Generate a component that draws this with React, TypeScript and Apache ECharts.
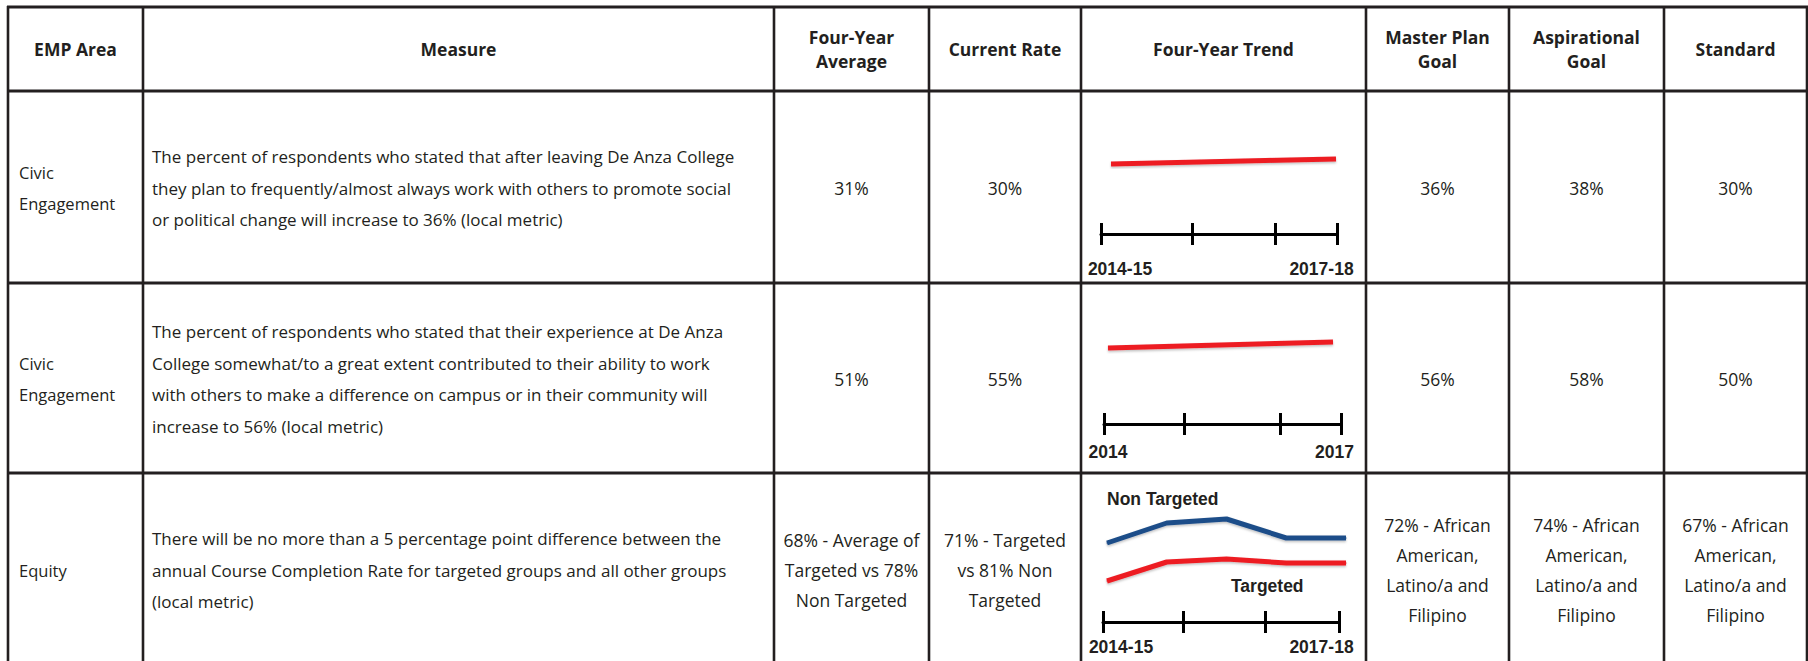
import React, { useEffect, useRef } from "react";
import * as echarts from "echarts";

// ---------- data ----------
const headers = [
  "EMP Area",
  "Measure",
  "Four-Year\nAverage",
  "Current Rate",
  "Four-Year Trend",
  "Master Plan\nGoal",
  "Aspirational\nGoal",
  "Standard",
];
const empAreas = ["Civic\nEngagement", "Civic\nEngagement", "Equity"];
const measures = [
  "The percent of respondents who stated that after leaving De Anza College\nthey plan to frequently/almost always work with others to promote social\nor political change will increase to 36% (local metric)",
  "The percent of respondents who stated that their experience at De Anza\nCollege somewhat/to a great extent contributed to their ability to work\nwith others to make a difference on campus or in their community will\nincrease to 56% (local metric)",
  "There will be no more than a 5 percentage point difference between the\nannual Course Completion Rate for targeted groups and all other groups\n(local metric)",
];
const fourYearAverage = ["31%", "51%", "68% - Average of\nTargeted vs 78%\nNon Targeted"];
const currentRate = ["30%", "55%", "71% - Targeted\nvs 81% Non\nTargeted"];
const masterPlanGoal = ["36%", "56%", "72% - African\nAmerican,\nLatino/a and\nFilipino"];
const aspirationalGoal = ["38%", "58%", "74% - African\nAmerican,\nLatino/a and\nFilipino"];
const standardGoal = ["30%", "50%", "67% - African\nAmerican,\nLatino/a and\nFilipino"];

const trendYears4 = ["2014-15", "2015-16", "2016-17", "2017-18"];
const trendYears5 = ["2014-15", "2015-16", "2016-17", "2017-18", "2018-19"];
const civicTrend1 = [29.5, null, null, 30.75];
const civicTrend2 = [52, null, null, 53.5];
const nonTargetedTrend = [77, 82, 83, 78.25, 78.25];
const targetedTrend = [67.5, 72.25, 73, 72, 72];
const seriesNames = ["Non Targeted", "Targeted"];

const axisTicks1 = [2014, 2015.16, 2016.21, 2017];
const axisTicks2 = [2014, 2015.01, 2016.23, 2017];
const axisTicks3 = [2014, 2015.02, 2016.06, 2017];
const axisLabels1 = ["2014-15", "2017-18"];
const axisLabels2 = ["2014", "2017"];
const axisLabels3 = ["2014-15", "2017-18"];

// ---------- layout ----------
const colX = [8, 143, 774, 929, 1081, 1366, 1509, 1664, 1807];
const rowY = [7, 91, 283, 473, 664];
const rowCenters = [188, 379, 570];
const INK = "#231f20";
const RED = "#ed1c24";
const BLUE = "#1f4e89";
const BODY_FONT = "'Open Sans', Lato, sans-serif";
const CHART_FONT = "'Liberation Sans', Arial, sans-serif";

const trendLayout = [
  { grid: { left: 1111, top: 122, width: 225, height: 80 }, yMin: 20, yMax: 40, axisY: 234, tickLeft: 1101, tickWidth: 236, pad: [38, 31], margin: 26 },
  { grid: { left: 1108, top: 316, width: 225, height: 60 }, yMin: 45, yMax: 60, axisY: 424, tickLeft: 1104, tickWidth: 237, pad: [8, 13], margin: 19 },
  { grid: { left: 1107, top: 491, width: 239, height: 120 }, yMin: 60, yMax: 90, axisY: 622, tickLeft: 1103, tickWidth: 236, pad: [36, 35], margin: 16 },
];
const axisTicks = [axisTicks1, axisTicks2, axisTicks3];
const axisLabels = [axisLabels1, axisLabels2, axisLabels3];

function buildOption(): any {
  const graphic: any[] = [];
  rowY.slice(0, 4).forEach((y) => {
    graphic.push({ type: "line", shape: { x1: 7, y1: y, x2: 1808, y2: y }, style: { stroke: INK, lineWidth: 3 }, silent: true });
  });
  colX.forEach((x) => {
    graphic.push({ type: "line", shape: { x1: x, y1: 6, x2: x, y2: 661 }, style: { stroke: INK, lineWidth: 2.6 }, silent: true });
  });
  headers.forEach((h, i) => {
    graphic.push({
      type: "text",
      x: (colX[i] + colX[i + 1]) / 2,
      y: 49,
      style: { text: h, fill: INK, fontFamily: BODY_FONT, fontWeight: "bold", fontSize: 17.5, lineHeight: 24, align: "center", verticalAlign: "middle" },
      silent: true,
    });
  });
  const centered = [fourYearAverage, currentRate, null, masterPlanGoal, aspirationalGoal, standardGoal];
  for (let r = 0; r < 3; r++) {
    graphic.push({
      type: "text",
      x: colX[0] + 11,
      y: rowCenters[r],
      style: { text: empAreas[r], fill: INK, fontFamily: BODY_FONT, fontSize: 16.5, lineHeight: 31, align: "left", verticalAlign: "middle" },
      silent: true,
    });
    graphic.push({
      type: "text",
      x: colX[1] + 9,
      y: rowCenters[r],
      style: { text: measures[r], fill: INK, fontFamily: BODY_FONT, fontSize: 17, lineHeight: 31.5, align: "left", verticalAlign: "middle" },
      silent: true,
    });
    centered.forEach((arr, k) => {
      if (!arr) return;
      const c = k + 2;
      graphic.push({
        type: "text",
        x: (colX[c] + colX[c + 1]) / 2,
        y: rowCenters[r],
        style: { text: arr[r], fill: INK, fontFamily: BODY_FONT, fontSize: 17.5, lineHeight: 30, align: "center", verticalAlign: "middle" },
        silent: true,
      });
    });
  }

  const grids: any[] = [];
  const xAxes: any[] = [];
  const yAxes: any[] = [];
  trendLayout.forEach((t, r) => {
    grids.push({ ...t.grid, containLabel: false });
    xAxes.push({ type: "category", gridIndex: r, data: r === 2 ? trendYears5 : trendYears4, boundaryGap: false, show: false });
    yAxes.push({ type: "value", gridIndex: r, min: t.yMin, max: t.yMax, show: false });
  });
  trendLayout.forEach((t, r) => {
    const gi = 3 + r;
    const ticks = axisTicks[r];
    const labs = axisLabels[r];
    const lo = ticks[0];
    const hi = ticks[ticks.length - 1];
    grids.push({ left: t.tickLeft, width: t.tickWidth, top: t.axisY - 1, height: 1, containLabel: false });
    const labelStyle = { fontFamily: CHART_FONT, fontWeight: "bold", fontSize: 17.5, color: INK };
    xAxes.push({
      type: "value",
      gridIndex: gi,
      position: "bottom",
      min: lo,
      max: hi,
      splitLine: { show: false },
      axisLine: { show: true, onZero: false, lineStyle: { color: "#000", width: 3 } },
      axisTick: { show: true, customValues: ticks, length: 11, inside: false, lineStyle: { color: "#000", width: 3 } },
      axisLabel: {
        show: true,
        customValues: [lo, hi],
        margin: t.margin,
        ...labelStyle,
        formatter: (v: number) => (v === lo ? `{a|${labs[0]}}` : `{b|${labs[1]}}`),
        rich: {
          a: { ...labelStyle, padding: [0, 0, 0, t.pad[0]] },
          b: { ...labelStyle, padding: [0, t.pad[1], 0, 0] },
        },
      },
    });
    xAxes.push({
      type: "value",
      gridIndex: gi,
      position: "bottom",
      min: lo,
      max: hi,
      splitLine: { show: false },
      axisLine: { show: false, onZero: false },
      axisTick: { show: true, customValues: ticks, length: 11, inside: true, lineStyle: { color: "#000", width: 3 } },
      axisLabel: { show: false },
    });
    yAxes.push({ type: "value", gridIndex: gi, min: 0, max: 1, show: false });
  });

  const shadow = { shadowColor: "rgba(0,0,0,0.25)", shadowBlur: 2, shadowOffsetY: 1.5 };
  const chartLabel = { fontFamily: CHART_FONT, fontWeight: "bold", fontSize: 17.5, color: INK };
  const series: any[] = [
    {
      type: "line", xAxisIndex: 0, yAxisIndex: 0, data: civicTrend1, connectNulls: true, symbol: "none",
      lineStyle: { color: RED, width: 5, ...shadow },
    },
    {
      type: "line", xAxisIndex: 1, yAxisIndex: 1, data: civicTrend2, connectNulls: true, symbol: "none",
      lineStyle: { color: RED, width: 5, ...shadow },
    },
    {
      type: "line", name: seriesNames[0], xAxisIndex: 2, yAxisIndex: 2,
      symbol: "circle", symbolSize: 1, showSymbol: true, itemStyle: { color: BLUE },
      data: nonTargetedTrend.map((v, i) =>
        i === 1 ? { value: v, label: { show: true, position: "top", distance: 15, offset: [-4, 0], formatter: seriesNames[0], ...chartLabel } } : v
      ),
      lineStyle: { color: BLUE, width: 5, ...shadow },
    },
    {
      type: "line", name: seriesNames[1], xAxisIndex: 2, yAxisIndex: 2,
      symbol: "circle", symbolSize: 1, showSymbol: true, itemStyle: { color: RED },
      data: targetedTrend.map((v, i) =>
        i === 3 ? { value: v, label: { show: true, position: "bottom", distance: 13, offset: [-19, 0], formatter: seriesNames[1], ...chartLabel } } : v
      ),
      lineStyle: { color: RED, width: 5, ...shadow },
    },
  ];

  return {
    animation: false,
    backgroundColor: "#ffffff",
    grid: grids,
    xAxis: xAxes,
    yAxis: yAxes,
    series,
    graphic: { elements: graphic },
  };
}

export default function App() {
  const ref = useRef<HTMLDivElement>(null);
  useEffect(() => {
    if (!ref.current) return;
    const chart = echarts.init(ref.current, null, { renderer: "svg" });
    chart.setOption(buildOption());
    return () => chart.dispose();
  }, []);
  return <div ref={ref} style={{ position: "absolute", left: 0, top: 0, width: 1808, height: 661 }} />;
}
